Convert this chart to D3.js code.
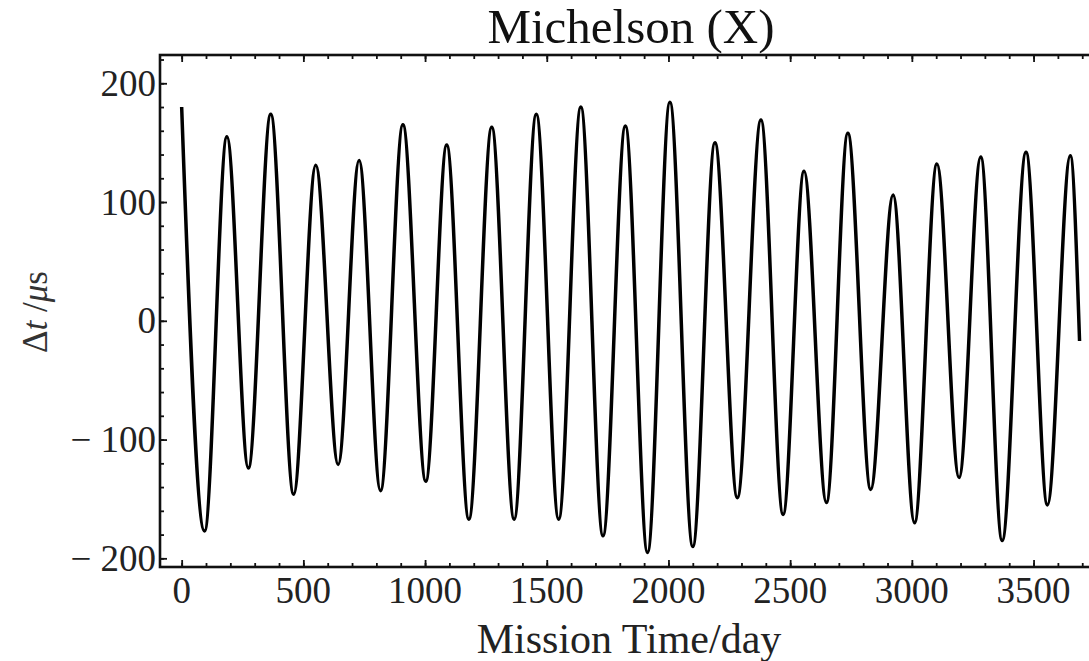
<!DOCTYPE html>
<html>
<head>
<meta charset="utf-8">
<script src="https://cdn.jsdelivr.net/npm/d3@7"></script>
<style>
  body { margin: 0; background: #fff; }
  text { font-family: "Liberation Serif", "DejaVu Serif", serif; }
</style>
</head>
<body>
<div id="wrapper"></div>
<script>
// Peaks and troughs (day, microseconds)
const missionDays = [0, 94, 186, 274, 366, 460, 551, 643, 729, 817, 909, 1003, 1089, 1180,
  1274, 1366, 1457, 1549, 1640, 1731, 1823, 1914, 2006, 2100, 2191, 2283, 2380, 2471,
  2557, 2649, 2737, 2831, 2923, 3011, 3103, 3194, 3283, 3371, 3469, 3557, 3651, 3689];
const deltaT = [180, -177, 155, -124, 174, -146, 131, -121, 135, -143, 165, -135, 148, -167,
  163, -167, 174, -167, 180, -181, 164, -195, 184, -190, 150, -149, 169, -163,
  126, -153, 158, -142, 106, -170, 132, -132, 138, -185, 142, -155, 139, -17];

const xMajorTicks = [0, 500, 1000, 1500, 2000, 2500, 3000, 3500];
const xMinorTicks = d3.range(0, 3800, 100);
const yMajorTicks = [-200, -100, 0, 100, 200];
const yMinorTicks = d3.range(-200, 240, 20);

const titleText = "Michelson (X)";
const xLabelText = "Mission Time/day";

function drawChart() {
    const dataset = missionDays.map((d, i) => ({ day: d, dt: deltaT[i] }));

    const xAccessor = d => d.day;
    const yAccessor = d => d.dt;

    // frame runs past the right edge of the picture, as in the original
    let dimensions = {
        width: 1089,
        height: 661,
        margin: { top: 55, right: -11, bottom: 94, left: 160 },
    };
    dimensions.boundedWidth = dimensions.width - dimensions.margin.left - dimensions.margin.right;
    dimensions.boundedHeight = dimensions.height - dimensions.margin.top - dimensions.margin.bottom;

    const wrapper = d3.select("#wrapper")
        .append("svg")
        .attr("width", dimensions.width)
        .attr("height", dimensions.height);

    const bounds = wrapper.append("g")
        .attr("transform", `translate(${dimensions.margin.left}, ${dimensions.margin.top})`);

    bounds.append("defs").append("clipPath")
        .attr("id", "bounds-clip")
        .append("rect")
        .attr("width", dimensions.boundedWidth)
        .attr("height", dimensions.boundedHeight);

    const xScale = d3.scaleLinear()
        .domain([-89, 3773])
        .range([0, dimensions.boundedWidth]);

    const yScale = d3.scaleLinear()
        .domain([-207.3, 223.8])
        .range([dimensions.boundedHeight, 0]);

    // the curve
    const lineGenerator = d3.line()
        .x(d => xScale(xAccessor(d)))
        .y(d => yScale(yAccessor(d)))
        .curve(d3.curveMonotoneX);

    bounds.append("path")
        .attr("clip-path", "url(#bounds-clip)")
        .attr("d", lineGenerator(dataset))
        .attr("fill", "none")
        .attr("stroke", "#000")
        .attr("stroke-width", 3.5)
        .attr("stroke-linejoin", "round");

    // inward ticks on every side
    const tickStyle = g => {
        g.select(".domain").remove();
        g.selectAll(".tick line").attr("stroke", "#111").attr("stroke-width", 1.8);
    };
    const noLabel = () => "";

    const sides = [
        [d3.axisTop, xScale, `translate(0, ${dimensions.boundedHeight})`, xMajorTicks, xMinorTicks],
        [d3.axisBottom, xScale, "translate(0, 0)", xMajorTicks, xMinorTicks],
        [d3.axisRight, yScale, "translate(0, 0)", yMajorTicks, yMinorTicks],
        [d3.axisLeft, yScale, `translate(${dimensions.boundedWidth}, 0)`, yMajorTicks, yMinorTicks],
    ];
    sides.forEach(([axisFn, scale, transform, major, minor]) => {
        bounds.append("g").attr("transform", transform)
            .call(axisFn(scale).tickValues(minor).tickSize(4).tickFormat(noLabel))
            .call(tickStyle);
        bounds.append("g").attr("transform", transform)
            .call(axisFn(scale).tickValues(major).tickSize(7).tickFormat(noLabel))
            .call(tickStyle);
    });

    // frame
    bounds.append("rect")
        .attr("width", dimensions.boundedWidth)
        .attr("height", dimensions.boundedHeight)
        .attr("fill", "none")
        .attr("stroke", "#111")
        .attr("stroke-width", 2.6);

    // tick labels
    const fmt = d => d < 0 ? "\u2212 " + Math.abs(d) : String(d);

    bounds.append("g").selectAll("text")
        .data(xMajorTicks)
        .enter().append("text")
        .attr("x", d => xScale(d))
        .attr("y", dimensions.boundedHeight + 36)
        .attr("text-anchor", "middle")
        .attr("fill", "#222")
        .style("font-size", "37px")
        .text(d => d);

    bounds.append("g").selectAll("text")
        .data(yMajorTicks)
        .enter().append("text")
        .attr("x", -4)
        .attr("y", d => yScale(d))
        .attr("dy", "0.34em")
        .attr("text-anchor", "end")
        .attr("fill", "#222")
        .style("font-size", "37px")
        .text(fmt);

    // title and axis labels
    wrapper.append("text")
        .attr("x", 631)
        .attr("y", 43)
        .attr("text-anchor", "middle")
        .attr("fill", "#111")
        .style("font-size", "49px")
        .text(titleText);

    wrapper.append("text")
        .attr("x", 629)
        .attr("y", 653)
        .attr("text-anchor", "middle")
        .attr("fill", "#222")
        .style("font-size", "42px")
        .text(xLabelText);

    const yLabel = wrapper.append("text")
        .attr("transform", "translate(47, 312) rotate(-90)")
        .attr("text-anchor", "middle")
        .attr("fill", "#333")
        .style("font-size", "35px");
    yLabel.append("tspan").text("\u0394");
    yLabel.append("tspan").style("font-style", "italic").text("t");
    yLabel.append("tspan").text(" /");
    yLabel.append("tspan").style("font-style", "italic").text("\u03bc");
    yLabel.append("tspan").text("s");
}

drawChart();
</script>
</body>
</html>
